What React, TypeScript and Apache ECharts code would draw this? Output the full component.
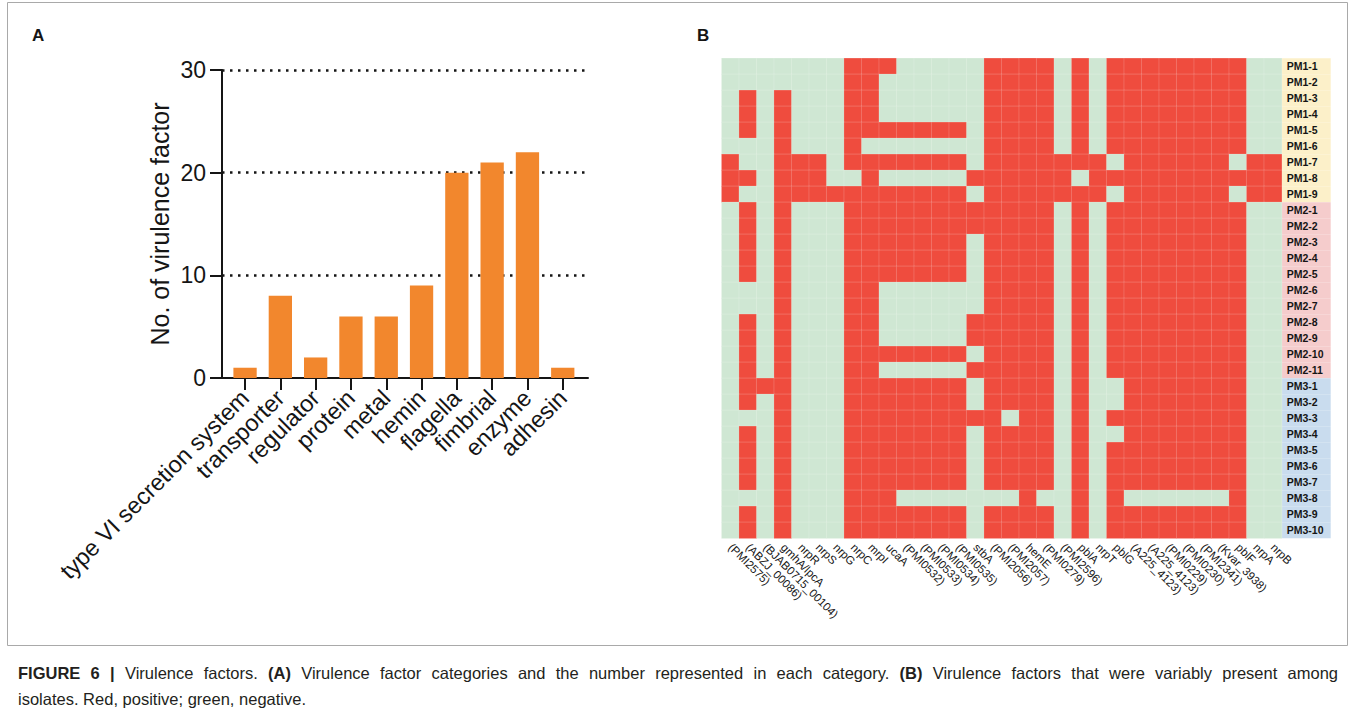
import { useEffect, useRef } from "react";
import * as echarts from "echarts";

// Panel A: virulence factor categories and counts
const categories = [
  "type VI secretion system",
  "transporter",
  "regulator",
  "protein",
  "metal",
  "hemin",
  "flagella",
  "fimbrial",
  "enzyme",
  "adhesin",
];
const factorCounts = [1, 8, 2, 6, 6, 9, 20, 21, 22, 1];
const countTicks = [0, 10, 20, 30];

// Panel B: variably present virulence genes (columns) per isolate (rows)
const genes = [
  "(PMI2575)",
  "(ABZJ_00086)",
  "(BJAB0715_00104)",
  "gmhA/lpcA",
  "nrpR",
  "nrpS",
  "nrpG",
  "nrpC",
  "mrpI",
  "ucaA",
  "(PMI0532)",
  "(PMI0533)",
  "(PMI0534)",
  "(PMI0535)",
  "stbA",
  "(PMI2056)",
  "(PMI2057)",
  "hemE",
  "(PMI0279)",
  "(PMI2596)",
  "pblA",
  "nrpT",
  "pblG",
  "(A225_4123)",
  "(A225_4123)",
  "(PMI0229)",
  "(PMI0230)",
  "(PMI2341)",
  "(Kvar_3938)",
  "pblF",
  "nrpA",
  "nrpB",
];

const isolates = [
  "PM1-1", "PM1-2", "PM1-3", "PM1-4", "PM1-5", "PM1-6", "PM1-7", "PM1-8", "PM1-9",
  "PM2-1", "PM2-2", "PM2-3", "PM2-4", "PM2-5", "PM2-6", "PM2-7", "PM2-8", "PM2-9", "PM2-10", "PM2-11",
  "PM3-1", "PM3-2", "PM3-3", "PM3-4", "PM3-5", "PM3-6", "PM3-7", "PM3-8", "PM3-9", "PM3-10",
];

// 1 = positive, 0 = negative; one string per isolate, spaces only group the gene columns
const presence = [
  "0000000 111 00000 1111 0101 1111111 00",
  "0000000 110 00000 1111 0101 1111111 00",
  "0101000 110 00000 1111 0101 1111111 00",
  "0101000 110 00000 1111 0101 1111111 00",
  "0101000 111 11110 1111 0101 1111111 00",
  "0001000 100 00000 1111 0101 1111111 00",
  "1001110 111 11110 1111 1110 1111110 11",
  "1101110 010 00001 1111 1011 1111111 11",
  "1001111 111 11110 1111 1110 1111110 11",
  "0101000 111 11111 1111 0101 1111111 00",
  "0101000 111 11111 1111 0101 1111111 00",
  "0101000 111 11110 1111 0101 1111111 00",
  "0101000 111 11110 1111 0101 1111111 00",
  "0101000 111 11110 1111 0101 1111111 00",
  "0001000 110 00000 1111 0101 1111111 00",
  "0001000 110 00000 1111 0101 1111111 00",
  "0101000 110 00001 1111 0101 1111111 00",
  "0101000 110 00001 1111 0101 1111111 00",
  "0101000 111 11110 1111 0101 1111111 00",
  "0101000 110 00001 1111 0101 1111111 00",
  "0111000 111 11110 1111 0100 1111111 00",
  "0101000 111 11110 1111 0100 1111111 00",
  "0001000 111 11111 1011 0101 1111111 00",
  "0101000 111 11110 1111 0100 1111111 00",
  "0101000 111 11110 1111 0101 1111111 00",
  "0101000 111 11110 1111 0101 1111111 00",
  "0101000 111 11110 1111 0101 1111111 00",
  "0001000 111 00000 0010 0101 0000001 00",
  "0101000 111 11110 1111 0101 1111111 00",
  "0101000 111 11110 1111 0101 1111111 00",
];

// Figure caption; the first line is set justified, bold words are listed separately
const captionLine1 =
  "FIGURE 6 | Virulence factors. (A) Virulence factor categories and the number represented in each category. (B) Virulence factors that were variably present among";
const captionLine2 = "isolates. Red, positive; green, negative.";
const captionBold = ["FIGURE", "6", "|", "(A)", "(B)"];

const FONT_NAME = "Liberation Sans";
const FONT = "'Liberation Sans', Arial, Helvetica, sans-serif";
const RED = "#ef4c3e";
const GREEN = "#cfe7d3";
const ORANGE = "#f2872d";
const INK = "#151515";
const CAPTION_INK = "#231f20";
const CAPTION_SIZE = 16.5;

function justifiedLine(text: string, left: number, right: number, y: number) {
  const ctx = document.createElement("canvas").getContext("2d") as CanvasRenderingContext2D;
  const words = text.split(" ").map((w) => {
    const bold = captionBold.includes(w);
    ctx.font = `${bold ? "bold " : ""}${CAPTION_SIZE}px '${FONT_NAME}'`;
    return { w, bold, width: ctx.measureText(w).width };
  });
  const total = words.reduce((s, o) => s + o.width, 0);
  const gap = (right - left - total) / (words.length - 1);
  let x = left;
  return words.map((o) => {
    const el = {
      type: "text",
      x,
      y,
      silent: true,
      style: {
        text: o.w,
        fontSize: CAPTION_SIZE,
        fontWeight: o.bold ? "bold" : "normal",
        fill: CAPTION_INK,
        fontFamily: FONT,
        verticalAlign: "middle",
      },
    };
    x += o.width + gap;
    return el;
  });
}

export default function App() {
  const ref = useRef<HTMLDivElement>(null);

  useEffect(() => {
    if (!ref.current) return;
    const chart = echarts.init(ref.current, undefined, { renderer: "svg" });

    const cells: number[][] = [];
    presence.forEach((row, y) => {
      row
        .replace(/ /g, "")
        .split("")
        .forEach((ch, x) => cells.push([x, y, Number(ch)]));
    });

    const labelBox = (bg: string) => ({
      backgroundColor: bg,
      width: 44,
      height: 16,
      lineHeight: 16,
      padding: [0, 0, 0, 5],
      fontSize: 10.5,
      fontWeight: "bold",
      color: INK,
      fontFamily: FONT,
    });

    const option: any = {
      animation: false,
      textStyle: { fontFamily: FONT },
      grid: [
        // axis frame of panel A
        { left: 222, top: 70, width: 366, height: 308 },
        // bar area of panel A
        { left: 227.4, top: 70, width: 353, height: 308 },
        // heatmap of panel B
        { left: 721.7, top: 58.3, width: 560, height: 480 },
      ],
      xAxis: [
        {
          type: "value",
          gridIndex: 0,
          min: 0,
          max: 1,
          axisLine: { show: true, lineStyle: { color: INK, width: 2 } },
          axisTick: { show: false },
          axisLabel: { show: false },
          splitLine: { show: false },
        },
        {
          type: "category",
          gridIndex: 1,
          data: categories,
          axisLine: { show: false },
          axisTick: { show: true, alignWithLabel: true, length: 12, lineStyle: { color: INK, width: 2 } },
          axisLabel: { rotate: 45, interval: 0, fontSize: 23.5, color: INK, margin: 16 },
        },
        {
          type: "category",
          gridIndex: 2,
          data: genes,
          axisLine: { show: false },
          axisTick: { show: false },
          axisLabel: { rotate: -45, interval: 0, fontSize: 11.5, color: INK, margin: 7 },
        },
      ],
      yAxis: [
        {
          type: "value",
          gridIndex: 0,
          min: countTicks[0],
          max: countTicks[countTicks.length - 1],
          interval: countTicks[1] - countTicks[0],
          name: "No. of virulence factor",
          nameLocation: "middle",
          nameRotate: 90,
          nameGap: 50,
          nameTextStyle: { fontSize: 25, color: INK },
          axisLine: { show: true, lineStyle: { color: INK, width: 2 } },
          axisTick: { show: true, length: 12, lineStyle: { color: INK, width: 2 } },
          axisLabel: { fontSize: 23, color: INK, margin: 16 },
          splitLine: {
            show: true,
            showMinLine: false,
            lineStyle: { type: [2.5, 5.5], width: 2.5, color: INK },
          },
        },
        {
          type: "value",
          gridIndex: 1,
          min: countTicks[0],
          max: countTicks[countTicks.length - 1],
          show: false,
        },
        {
          type: "category",
          gridIndex: 2,
          data: isolates,
          inverse: true,
          position: "right",
          axisLine: { show: false },
          axisTick: { show: false },
          axisLabel: {
            interval: 0,
            margin: 0,
            formatter: (v: string) => `{${v.slice(0, 3)}|${v}}`,
            rich: {
              PM1: labelBox("#fcf0c9"),
              PM2: labelBox("#f5cccc"),
              PM3: labelBox("#c9dcee"),
            },
          },
        },
      ],
      visualMap: {
        type: "piecewise",
        show: false,
        seriesIndex: 1,
        dimension: 2,
        pieces: [
          { value: 0, color: GREEN },
          { value: 1, color: RED },
        ],
      },
      series: [
        {
          type: "bar",
          xAxisIndex: 1,
          yAxisIndex: 1,
          data: factorCounts,
          barWidth: "66%",
          itemStyle: { color: ORANGE },
        },
        {
          type: "heatmap",
          xAxisIndex: 2,
          yAxisIndex: 2,
          data: cells,
          itemStyle: { borderColor: "rgba(255,255,255,0.28)", borderWidth: 0.6 },
          emphasis: { disabled: true },
        },
      ],
      graphic: [
        {
          type: "rect",
          shape: { x: 7.5, y: 2.5, width: 1340, height: 643 },
          style: { fill: "none", stroke: "#a9a9a9", lineWidth: 1 },
          silent: true,
        },
        {
          type: "text",
          x: 32,
          y: 35,
          style: { text: "A", fontSize: 17, fontWeight: "bold", fill: INK, fontFamily: FONT, verticalAlign: "middle" },
        },
        {
          type: "text",
          x: 697,
          y: 35,
          style: { text: "B", fontSize: 17, fontWeight: "bold", fill: INK, fontFamily: FONT, verticalAlign: "middle" },
        },
        ...justifiedLine(captionLine1, 18, 1338, 673),
        {
          type: "text",
          x: 18,
          y: 699,
          style: {
            text: captionLine2,
            fontSize: CAPTION_SIZE,
            fill: CAPTION_INK,
            fontFamily: FONT,
            verticalAlign: "middle",
          },
        },
      ],
    };

    chart.setOption(option);
    return () => chart.dispose();
  }, []);

  return (
    <div
      ref={ref}
      style={{ position: "absolute", left: 0, top: 0, width: 1356, height: 716, background: "#fff" }}
    />
  );
}
